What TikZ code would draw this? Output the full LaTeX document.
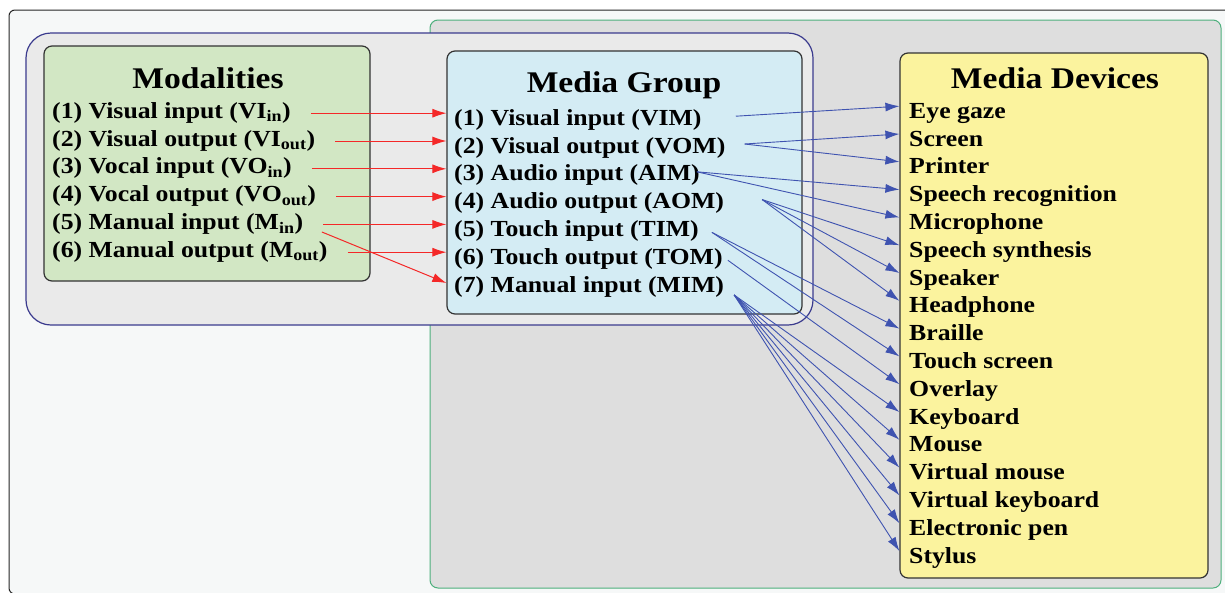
\documentclass[tikz,border=0pt]{standalone}
\usepackage{fontspec}
\setmainfont{Liberation Serif}[FakeStretch=1.12]
\usepackage{tikz}
\usetikzlibrary{matrix,arrows.meta}
\usepackage{xcolor}

\definecolor{framefill}{HTML}{F6F8F8}
\definecolor{regionfill}{HTML}{DEDEDE}
\definecolor{regionline}{HTML}{4DAF7C}
\definecolor{groupfill}{HTML}{EAEAEA}
\definecolor{groupline}{HTML}{3B3B8E}
\definecolor{modfill}{HTML}{D2E7C4}
\definecolor{mgfill}{HTML}{D4ECF4}
\definecolor{mdfill}{HTML}{FBF39E}
\definecolor{redarrow}{HTML}{F42828}
\definecolor{bluearrow}{HTML}{3F53B0}

\begin{document}
\begin{tikzpicture} [x=1pt, y=-1pt
  , roundbox/.style={draw=black!80,line width=1.2pt,rounded corners=8pt,inner sep=0pt}
  , heading/.style={font=\fontsize{30}{34}\selectfont\bfseries,inner sep=0pt,anchor=base}
  , list/.style={matrix of nodes,inner sep=0pt,anchor=north west
      ,nodes={anchor=west,inner sep=0pt,font=\fontsize{23}{26}\selectfont\bfseries}}
  , redline/.style={->,color=redarrow,line width=1pt,shorten <=20pt,>={Latex[length=14pt,width=9pt]}}
  , blueline/.style={->,color=bluearrow,line width=0.9pt,>={Latex[length=14pt,width=9pt]}}
]
  \useasboundingbox (0,0) rectangle (1225,592);
  \clip (0,0) rectangle (1225,592);

  % backgrounds
  \draw[fill=framefill,draw=black!85,line width=1pt,rounded corners=6pt] (9,10) rectangle (1240,594);
  \draw[fill=regionfill,draw=regionline,line width=1pt,rounded corners=8pt] (430,20) rectangle (1221,588);
  \draw[fill=groupfill,draw=groupline,line width=1.2pt,rounded corners=25pt] (26,33) rectangle (813,325);

  \node[roundbox,fill=modfill,minimum width=326pt,minimum height=235pt] (mod) at (207,163.5) {};
  \node[roundbox,fill=mgfill,minimum width=355pt,minimum height=263pt] (mg) at (624.5,182.5) {};
  \node[roundbox,fill=mdfill,minimum width=308pt,minimum height=525pt] (md) at (1054,315.5) {};

  \node[heading] (modtitle) at (208,88) {Modalities};
  \node[heading] (mgtitle) at (624,92) {Media Group};
  \node[heading] (mdtitle) at (1055,88) {Media Devices};

  \matrix (mods) [
    list
    , row sep=7.8pt
    , nodes={text height=15pt,text depth=5pt}
  ] at (52,103) {
    (1) Visual input (VI\textsubscript{in}) \\
    (2) Visual output (VI\textsubscript{out}) \\
    (3) Vocal input (VO\textsubscript{in}) \\
    (4) Vocal output (VO\textsubscript{out}) \\
    (5) Manual input (M\textsubscript{in}) \\
    (6) Manual output (M\textsubscript{out}) \\
  };

  \matrix (mgrp) [
    list
    , row sep=5.8pt
    , nodes={text height=20pt,text depth=2pt}
  ] at (454,105) {
    (1) Visual input (VIM) \\
    (2) Visual output (VOM) \\
    (3) Audio input (AIM) \\
    (4) Audio output (AOM) \\
    (5) Touch input (TIM) \\
    (6) Touch output (TOM) \\
    (7) Manual input (MIM) \\
  };

  \matrix (mdev) [
    list
    , row sep=-0.2pt
    , nodes={text height=26pt,text depth=2pt}
  ] at (909,92) {
    Eye gaze \\
    Screen \\
    Printer \\
    Speech recognition \\
    Microphone \\
    Speech synthesis \\
    Speaker \\
    Headphone \\
    Braille \\
    Touch screen \\
    Overlay \\
    Keyboard \\
    Mouse \\
    Virtual mouse \\
    Virtual keyboard \\
    Electronic pen \\
    Stylus \\
  };

  \path[redline]
  (mods-1-1.east) edge (mods-1-1.east -| mg.west)
  (mods-2-1.east) edge (mods-2-1.east -| mg.west)
  (mods-3-1.east) edge (mods-3-1.east -| mg.west)
  (mods-4-1.east) edge (mods-4-1.east -| mg.west)
  (mods-5-1.east) edge (mods-5-1.east -| mg.west)
                  edge (mg.west |- mgrp-7-1)
  (mods-6-1.east) edge (mods-6-1.east -| mg.west)
  ;

  \path[blueline]
  ([xshift=34pt]mgrp-1-1.east) edge (md.west |- mdev-1-1)
  ([xshift=19pt]mgrp-2-1.east) edge (md.west |- mdev-2-1)
                               edge (md.west |- mdev-3-1)
  ([xshift=-3pt]mgrp-3-1.east) edge (md.west |- mdev-4-1)
                               edge (md.west |- mdev-5-1)
  ([xshift=38pt]mgrp-4-1.east) edge (md.west |- mdev-6-1)
                               edge (md.west |- mdev-7-1)
                               edge (md.west |- mdev-8-1)
  ([xshift=13pt,yshift=-5pt]mgrp-5-1.east) edge (md.west |- mdev-9-1)
                                           edge (md.west |- mdev-10-1)
  ([xshift=5pt,yshift=-5pt]mgrp-6-1.east) edge (md.west |- mdev-11-1)
  ([xshift=10pt,yshift=-12pt]mgrp-7-1.east) edge (md.west |- mdev-12-1)
                                            edge (md.west |- mdev-13-1)
                                            edge (md.west |- mdev-14-1)
                                            edge (md.west |- mdev-15-1)
                                            edge (md.west |- mdev-16-1)
                                            edge (md.west |- mdev-17-1)
  ;
\end{tikzpicture}
\end{document}
